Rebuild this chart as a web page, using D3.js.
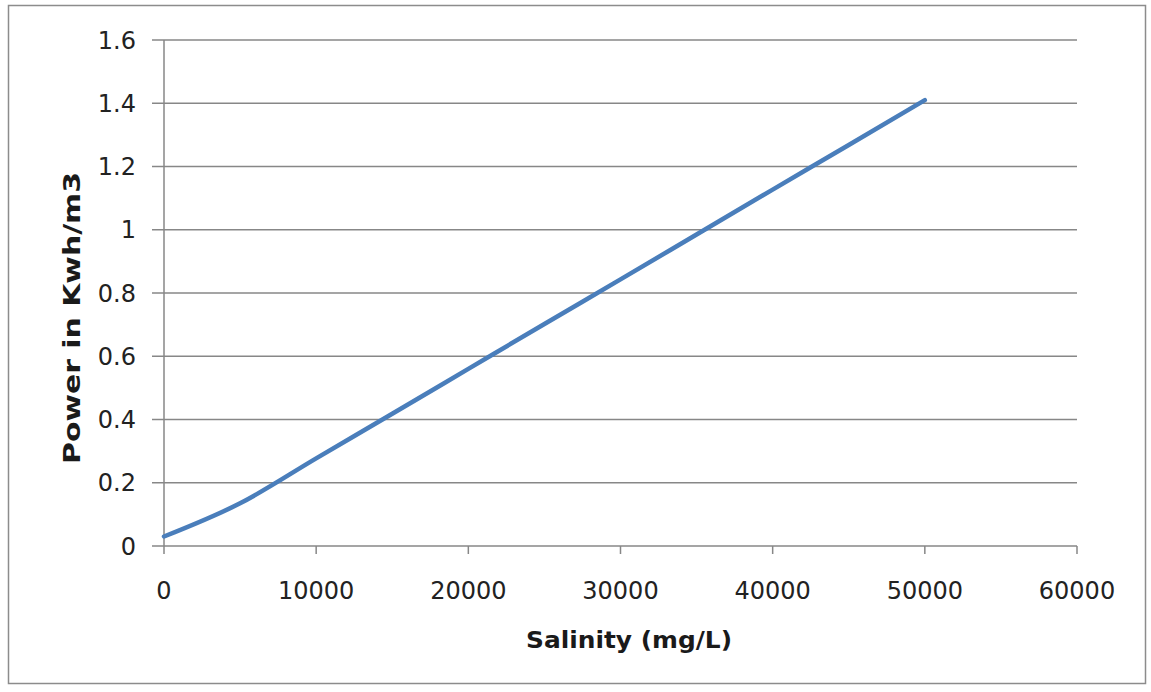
<!DOCTYPE html>
<html>
<head>
<meta charset="utf-8">
<script src="https://cdn.jsdelivr.net/npm/d3@7"></script>
<style>
  body { margin: 0; background: #fff; }
  svg { display: block; font-family: "DejaVu Sans", "Liberation Sans", sans-serif; }
</style>
</head>
<body>
<svg id="chart" width="1151" height="692"></svg>
<script>
var salinity = [0, 5000, 10000, 15000, 20000, 25000, 30000, 35000, 40000, 45000, 50000];
var power = [0.03, 0.135, 0.277, 0.418, 0.56, 0.702, 0.843, 0.985, 1.127, 1.268, 1.41];
var xTicks = [0, 10000, 20000, 30000, 40000, 50000, 60000];
var yTicks = [0, 0.2, 0.4, 0.6, 0.8, 1, 1.2, 1.4, 1.6];

var svg = d3.select("#chart");
var margin = { left: 164, right: 74, top: 40, bottom: 146 };
var width = 1151, height = 692;

// frame
svg.append("rect")
   .attr("x", 8.5).attr("y", 5.5)
   .attr("width", 1137).attr("height", 678)
   .attr("fill", "#fff")
   .attr("stroke", "#8c8c8c")
   .attr("stroke-width", 1.5);

var x = d3.scaleLinear().domain([0, 60000]).range([margin.left, width - margin.right]);
var y = d3.scaleLinear().domain([0, 1.6]).range([height - margin.bottom, margin.top]);

// gridlines
svg.append("g")
   .selectAll("line")
   .data(yTicks)
   .enter()
   .append("line")
   .attr("x1", margin.left - 12)
   .attr("x2", width - margin.right)
   .attr("y1", function(d) { return y(d); })
   .attr("y2", function(d) { return y(d); })
   .attr("stroke", "#878787")
   .attr("stroke-width", 1.5);

// y axis line
svg.append("line")
   .attr("x1", x(0)).attr("x2", x(0))
   .attr("y1", y(1.6)).attr("y2", y(0))
   .attr("stroke", "#878787")
   .attr("stroke-width", 1.5);

// x ticks
svg.append("g")
   .selectAll("line")
   .data(xTicks)
   .enter()
   .append("line")
   .attr("x1", function(d) { return x(d); })
   .attr("x2", function(d) { return x(d); })
   .attr("y1", y(0))
   .attr("y2", y(0) + 8)
   .attr("stroke", "#878787")
   .attr("stroke-width", 1.5);

// y tick labels
svg.append("g")
   .selectAll("text")
   .data(yTicks)
   .enter()
   .append("text")
   .attr("x", margin.left - 28)
   .attr("y", function(d) { return y(d); })
   .attr("dy", "0.36em")
   .attr("text-anchor", "end")
   .attr("font-size", 24)
   .attr("fill", "#222")
   .text(function(d) { return d3.format("~g")(d); });

// x tick labels
svg.append("g")
   .selectAll("text")
   .data(xTicks)
   .enter()
   .append("text")
   .attr("x", function(d) { return x(d); })
   .attr("y", 599)
   .attr("text-anchor", "middle")
   .attr("font-size", 24)
   .attr("fill", "#222")
   .text(function(d) { return d; });

// line
var line = d3.line()
   .x(function(d, i) { return x(salinity[i]); })
   .y(function(d) { return y(d); })
   .curve(d3.curveMonotoneX);

svg.append("path")
   .datum(power)
   .attr("d", line)
   .attr("fill", "none")
   .attr("stroke", "#4a7ebb")
   .attr("stroke-width", 4.5)
   .attr("stroke-linecap", "round");

// axis titles
svg.append("text")
   .attr("x", 629)
   .attr("y", 648)
   .attr("text-anchor", "middle")
   .attr("font-size", 23)
   .attr("font-weight", "bold")
   .attr("fill", "#1a1a1a")
   .attr("textLength", 206)
   .attr("lengthAdjust", "spacingAndGlyphs")
   .text("Salinity  (mg/L)");

svg.append("text")
   .attr("transform", "translate(80,318) rotate(-90)")
   .attr("text-anchor", "middle")
   .attr("font-size", 23)
   .attr("font-weight", "bold")
   .attr("fill", "#1a1a1a")
   .attr("textLength", 292)
   .attr("lengthAdjust", "spacingAndGlyphs")
   .text("Power in Kwh/m3");
</script>
</body>
</html>
